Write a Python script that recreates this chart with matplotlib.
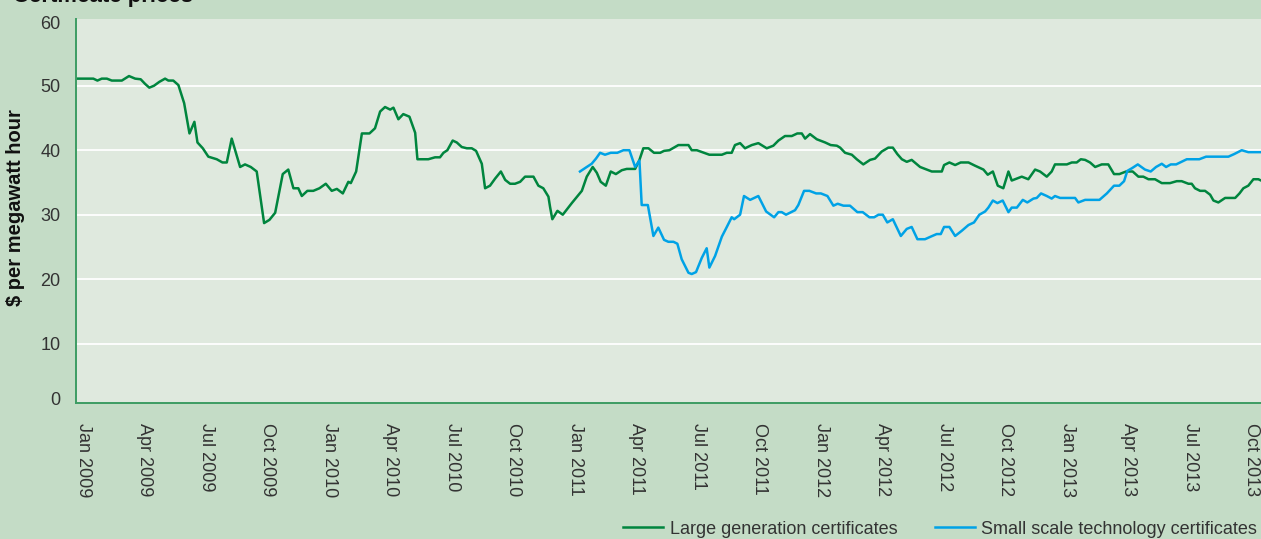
import matplotlib
matplotlib.use("Agg")
import matplotlib.pyplot as plt
from matplotlib.lines import Line2D

plt.rcParams['font.family'] = ['Liberation Sans', 'DejaVu Sans']

# ---------------- data (x = months since Jan 2009) ----------------
lg_months = [-0.36, 0.50, 0.70, 0.91, 1.16, 1.40, 1.89, 2.24, 2.54, 2.81, 3.02, 3.23, 3.46, 3.72,
             4.00, 4.16, 4.40, 4.65, 4.93, 5.19, 5.43, 5.58, 5.84, 6.11, 6.52, 6.80, 7.01, 7.25,
             7.66, 7.90, 8.18, 8.47, 8.83, 9.09, 9.37, 9.74, 10.01, 10.26, 10.50, 10.67, 10.94,
             11.23, 11.53, 11.84, 12.13, 12.38, 12.67, 12.94, 13.06, 13.32, 13.60, 13.97, 14.24,
             14.49, 14.73, 14.98, 15.14, 15.38, 15.62, 15.92, 16.20, 16.31, 16.84, 17.17, 17.41,
             17.58, 17.77, 18.03, 18.23, 18.47, 18.72, 18.96, 19.17, 19.45, 19.61, 19.85, 20.10,
             20.38, 20.59, 20.83, 21.07, 21.32, 21.56, 21.97, 22.21, 22.45, 22.70, 22.78, 22.89,
             23.14, 23.40, 23.84, 24.33, 24.57, 24.86, 25.06, 25.25, 25.50, 25.74, 25.99, 26.28,
             26.52, 26.93, 27.14, 27.33, 27.58, 27.85, 28.15, 28.34, 28.60, 29.04, 29.53, 29.69,
             29.94, 30.55, 31.16, 31.40, 31.64, 31.80, 32.05, 32.29, 32.62, 32.94, 33.35, 33.67,
             33.92, 34.24, 34.57, 34.84, 35.06, 35.22, 35.46, 35.79, 36.20, 36.47, 36.77, 36.93,
             37.17, 37.50, 37.74, 38.06, 38.39, 38.63, 38.96, 39.28, 39.50, 39.72, 39.94, 40.18,
             40.42, 40.83, 41.16, 41.40, 41.89, 42.00, 42.26, 42.54, 42.81, 43.19, 43.51, 43.92,
             44.13, 44.38, 44.62, 44.89, 45.14, 45.30, 45.79, 46.11, 46.44, 46.68, 47.01, 47.25,
             47.41, 47.99, 48.23, 48.47, 48.67, 48.88, 49.12, 49.37, 49.69, 50.01, 50.29, 50.55,
             50.88, 51.20, 51.48, 51.72, 51.97, 52.29, 52.62, 53.02, 53.35, 53.59, 53.92, 54.08,
             54.24, 54.49, 54.73, 54.98, 55.14, 55.38, 55.71, 56.20, 56.41, 56.60, 56.84, 57.09,
             57.33, 57.60]
lg_values = [51.1, 51.1, 50.8, 51.1, 51.1, 50.8, 50.8, 51.5, 51.1, 51.0, 50.3, 49.7, 50.0, 50.6,
             51.1, 50.8, 50.8, 50.1, 47.3, 42.6, 44.4, 41.2, 40.3, 39.0, 38.6, 38.1, 38.1, 41.8,
             37.4, 37.8, 37.4, 36.7, 28.7, 29.2, 30.3, 36.3, 37.0, 34.1, 34.1, 32.9, 33.7,
             33.7, 34.1, 34.8, 33.7, 34.0, 33.3, 35.1, 34.9, 36.7, 42.6, 42.6, 43.4,
             46.0, 46.7, 46.3, 46.6, 44.8, 45.6, 45.2, 42.7, 38.6, 38.6, 38.9, 38.9,
             39.6, 40.0, 41.5, 41.2, 40.5, 40.3, 40.3, 39.9, 37.9, 34.1, 34.5, 35.6,
             36.7, 35.4, 34.8, 34.8, 35.1, 35.9, 35.9, 34.5, 34.1, 32.8, 31.2, 29.3,
             30.6, 30.0, 31.8, 33.7, 35.9, 37.4, 36.5, 35.1, 34.5, 36.7, 36.3, 36.9,
             37.1, 37.1, 38.5, 40.3, 40.3, 39.6, 39.6, 39.9, 40.0, 40.8, 40.8, 40.0,
             40.0, 39.3, 39.3, 39.6, 39.6, 40.8, 41.1, 40.3, 40.8, 41.1, 40.3, 40.7,
             41.5, 42.2, 42.2, 42.6, 42.6, 41.8, 42.5, 41.7, 41.2, 40.8, 40.7, 40.4,
             39.6, 39.3, 38.6, 37.8, 38.5, 38.7, 39.8, 40.4, 40.4, 39.4, 38.6, 38.2,
             38.5, 37.4, 37.0, 36.7, 36.7, 37.7, 38.1, 37.7, 38.1, 38.1, 37.6, 37.0,
             36.2, 36.7, 34.5, 34.1, 36.7, 35.3, 35.9, 35.5, 37.0, 36.7, 35.9, 36.7,
             37.8, 37.8, 38.1, 38.1, 38.6, 38.5, 38.1, 37.4, 37.8, 37.8, 36.3, 36.3,
             36.7, 36.7, 35.9, 35.9, 35.5, 35.5, 34.9, 34.9, 35.2, 35.2, 34.8, 34.8,
             34.1, 33.7, 33.7, 33.1, 32.2, 31.9, 32.6, 32.6, 33.3, 34.1, 34.5, 35.5,
             35.5, 35.1]

sts_months = [24.24, 24.57, 24.81, 25.02, 25.22, 25.46, 25.74, 26.06, 26.36, 26.65, 26.93, 27.14,
              27.25, 27.55, 27.82, 28.06, 28.34, 28.55, 28.80, 28.99, 29.20, 29.53, 29.69, 29.90,
              30.18, 30.42, 30.55, 30.83, 31.16, 31.37, 31.64, 31.76, 32.05, 32.24, 32.54, 32.94,
              33.32, 33.71, 33.92, 34.08, 34.29, 34.73, 34.89, 35.17, 35.43, 35.76, 35.99, 36.31,
              36.60, 36.81, 37.09, 37.41, 37.77, 38.03, 38.36, 38.59, 38.80, 39.01, 39.23, 39.50,
              39.89, 40.18, 40.42, 40.70, 41.07, 41.35, 41.64, 41.84, 42.00, 42.26, 42.54, 42.86,
              43.19, 43.46, 43.72, 44.00, 44.16, 44.38, 44.60, 44.86, 45.14, 45.30, 45.55, 45.84,
              46.06, 46.36, 46.52, 46.73, 47.01, 47.25, 47.41, 47.66, 48.39, 48.55, 48.88, 49.58,
              49.94, 50.29, 50.55, 50.78, 50.94, 51.16, 51.45, 51.80, 52.08, 52.34, 52.62, 52.83,
              53.06, 53.32, 53.84, 54.45, 54.78, 55.87, 56.15, 56.52, 56.84, 57.60]
sts_values = [36.7, 37.4, 37.9, 38.7, 39.6, 39.3, 39.6, 39.6, 40.0, 40.0, 37.4, 38.4,
              31.5, 31.5, 26.7, 28.0, 26.1, 25.8, 25.8, 25.5, 23.1, 21.0, 20.8, 21.1,
              23.3, 24.8, 21.8, 23.6, 26.6, 27.9, 29.6, 29.3, 30.0, 32.9, 32.3, 32.9,
              30.5, 29.6, 30.4, 30.4, 30.0, 30.7, 31.5, 33.7, 33.7, 33.3, 33.3, 32.9,
              31.4, 31.7, 31.4, 31.4, 30.4, 30.4, 29.6, 29.6, 30.0, 30.0, 28.8, 29.3,
              26.7, 27.8, 28.1, 26.2, 26.2, 26.6, 27.0, 27.0, 28.1, 28.1, 26.7, 27.5,
              28.4, 28.8, 30.0, 30.5, 31.1, 32.2, 31.8, 32.2, 30.4, 31.1, 31.1, 32.3,
              31.9, 32.5, 32.6, 33.3, 32.9, 32.5, 32.9, 32.6, 32.6, 31.9, 32.3, 32.3,
              33.3, 34.5, 34.5, 35.2, 36.8, 37.2, 37.8, 37.0, 36.7, 37.4, 37.9, 37.4,
              37.8, 37.8, 38.6, 38.6, 39.0, 39.0, 39.4, 40.0, 39.7, 39.7]

tick_months = [0, 3, 6, 9, 12, 15, 18, 21, 24, 27, 30, 33, 36, 39, 42, 45, 48, 51, 54, 57]
tick_labels = ['Jan 2009', 'Apr 2009', 'Jul 2009', 'Oct 2009', 'Jan 2010', 'Apr 2010',
               'Jul 2010', 'Oct 2010', 'Jan 2011', 'Apr 2011', 'Jul 2011', 'Oct 2011',
               'Jan 2012', 'Apr 2012', 'Jul 2012', 'Oct 2012', 'Jan 2013', 'Apr 2013',
               'Jul 2013', 'Oct 2013']
y_tick_labels = ['0', '10', '20', '30', '40', '50', '60']
y_grid = [10, 20, 30, 40, 50]

series_names = ['Large generation certificates', 'Small scale technology certificates']

# ---------------- styling ----------------
OUTER = '#c4dcc6'
INNER = '#dfe9de'
GREEN = '#00853e'
BLUE = '#00a2e6'
AXIS = '#3d9c63'
TEXT = '#333333'

W, H = 1261, 539
fig = plt.figure(figsize=(W / 100, H / 100), dpi=100, facecolor=OUTER)
ax = fig.add_axes([75.7 / W, (H - 402.7) / H, 1 - 75.7 / W, (402.7 - 19.3) / H])
ax.set_facecolor(INNER)

ax.set_xlim(-0.36, 57.46)
ax.set_ylim(0.85, 60.3)

for g in y_grid:
    ax.axhline(g, color='white', lw=1.3, zorder=1)

ax.plot(lg_months, lg_values, color=GREEN, lw=1.8, zorder=3, solid_joinstyle='round')
ax.plot(sts_months, sts_values, color=BLUE, lw=1.8, zorder=3, solid_joinstyle='round')

for s in ['top', 'right']:
    ax.spines[s].set_visible(False)
for s in ['left', 'bottom']:
    ax.spines[s].set_color(AXIS)
    ax.spines[s].set_linewidth(1.4)
    ax.spines[s].set_zorder(4)

ax.set_xticks(tick_months)
ax.set_xticklabels(tick_labels, rotation=270, fontsize=13, color=TEXT)
ax.tick_params(axis='x', length=0, pad=14.5)

y_pos = [1.5, 10, 20, 30, 40, 50, 59.8]
ax.set_yticks(y_pos)
ax.set_yticklabels(y_tick_labels, fontsize=13, color=TEXT)
ax.tick_params(axis='y', length=0, pad=11)

fig.text(15.7 / W, (H - 208) / H, '$ per megawatt hour', rotation=90, ha='center',
         va='center', fontsize=14.5, fontweight='bold', color='#111111')
fig.text(12.7 / W, (H - 2) / H, 'Certificate prices', ha='left', va='baseline',
         fontsize=16, fontweight='bold', color='#111111')

handles = [Line2D([], [], color=GREEN, lw=1.8), Line2D([], [], color=BLUE, lw=1.8)]
fig.legend(handles, series_names, loc='center right', bbox_to_anchor=(1257 / W, 10 / H),
           ncol=2, frameon=False, fontsize=13, handlelength=2.2, handletextpad=0.35,
           columnspacing=2.1, borderpad=0, borderaxespad=0, labelcolor=TEXT)

fig.savefig('out.png', dpi=100, facecolor=OUTER)
